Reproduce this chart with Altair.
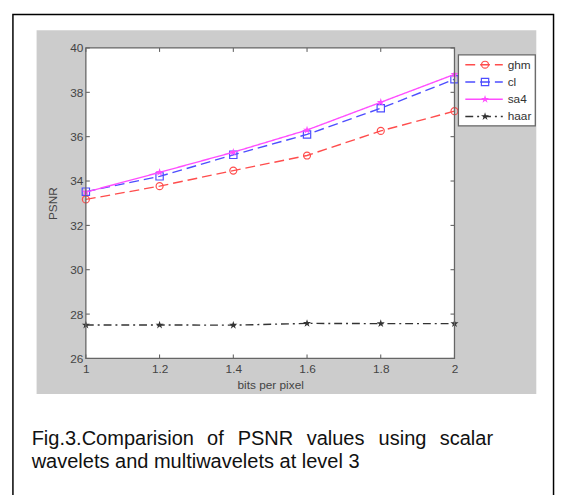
import altair as alt
import pandas as pd

# ---- data ----
bpp = [1.0, 1.2, 1.4, 1.6, 1.8, 2.0]
ghm = [33.17, 33.77, 34.47, 35.15, 36.26, 37.15]
cl = [33.52, 34.21, 35.18, 36.10, 37.28, 38.59]
sa4 = [33.50, 34.39, 35.30, 36.30, 37.55, 38.81]
haar = [27.51, 27.51, 27.50, 27.58, 27.57, 27.57]
series_names = ["ghm", "cl", "sa4", "haar"]
x_ticks = [1.0, 1.2, 1.4, 1.6, 1.8, 2.0]
y_ticks = [26, 28, 30, 32, 34, 36, 38, 40]
caption_line1 = ["Fig.3.Comparision", "of", "PSNR", "values", "using", "scalar"]
caption_line2 = ["wavelets and multiwavelets at level 3"]

values = {"ghm": ghm, "cl": cl, "sa4": sa4, "haar": haar}
df = pd.DataFrame(
    [{"bpp": b, "psnr": v, "series": s} for s in series_names for b, v in zip(bpp, values[s])]
)

# ---- layout / style ----
W, H = 374, 315
FONT = "Liberation Sans"
STAR = ("M0,-1L0.2245,-0.309L0.951,-0.309L0.363,0.118L0.588,0.809L0,0.382"
        "L-0.588,0.809L-0.363,0.118L-0.951,-0.309L-0.2245,-0.309Z")
style = {
    "ghm": dict(color="#ff4d4d", dash=[10, 5], shape="circle", filled=False, size=50),
    "cl": dict(color="#4d4dff", dash=[10, 5], shape="square", filled=False, size=55),
    "sa4": dict(color="#ff4dff", dash=[1, 0], shape=STAR, filled=True, size=75),
    "haar": dict(color="#333333", dash=[8, 4, 2, 4], shape=STAR, filled=True, size=75),
}

xscale = alt.Scale(domain=[1, 2], nice=False, zero=False)
yscale = alt.Scale(domain=[26, 40], nice=False, zero=False)
axis_common = dict(grid=False, domain=False, ticks=False, tickSize=0,
                   labelFont=FONT, labelFontSize=12, labelColor="#444",
                   titleFont=FONT, titleFontSize=12, titleFontWeight="normal",
                   titleColor="#444", zindex=1, labelFlush=False)
X = alt.X("bpp:Q", scale=xscale,
          axis=alt.Axis(values=x_ticks, format="~g", title="bits per pixel",
                        labelPadding=5, titlePadding=5, **axis_common))
Y = alt.Y("psnr:Q", scale=yscale,
          axis=alt.Axis(values=y_ticks, title="PSNR", labelPadding=3,
                        titlePadding=10, **axis_common))

one = pd.DataFrame({"k": [0]})
layers = []

# outer black border
layers.append(alt.Chart(one).mark_rect(fill="white", stroke="black", strokeWidth=1.5)
              .encode(x=alt.value(-74), x2=alt.value(474.5), y=alt.value(-34), y2=alt.value(470)))
# gray figure panel
layers.append(alt.Chart(one).mark_rect(fill="#cccccc")
              .encode(x=alt.value(-50), x2=alt.value(457), y=alt.value(-18), y2=alt.value(351)))
# white plot area
layers.append(alt.Chart(one).mark_rect(fill="white")
              .encode(x=alt.value(0), x2=alt.value(W), y=alt.value(0), y2=alt.value(H)))

# inward ticks
ydf = pd.DataFrame({"psnr": y_ticks})
xdf = pd.DataFrame({"bpp": x_ticks})
tick_col = "#555555"
layers.append(alt.Chart(ydf).mark_rule(color=tick_col).encode(y=Y, x=alt.value(0), x2=alt.value(4)))
layers.append(alt.Chart(ydf).mark_rule(color=tick_col).encode(y=Y, x=alt.value(W - 4), x2=alt.value(W)))
layers.append(alt.Chart(xdf).mark_rule(color=tick_col).encode(x=X, y=alt.value(H - 4), y2=alt.value(H)))
layers.append(alt.Chart(xdf).mark_rule(color=tick_col).encode(x=X, y=alt.value(0), y2=alt.value(4)))

# series
for s in series_names:
    st = style[s]
    base = alt.Chart(df).transform_filter(alt.datum.series == s)
    layers.append(base.mark_line(color=st["color"], strokeDash=st["dash"], strokeWidth=1.4)
                  .encode(x=X, y=Y))
    layers.append(base.mark_point(shape=st["shape"], filled=st["filled"], size=st["size"],
                                  color=st["color"], strokeWidth=1.2, opacity=1)
                  .encode(x=X, y=Y))

# plot frame
layers.append(alt.Chart(one).mark_rect(fill=None, stroke="#666666", strokeWidth=1.3)
              .encode(x=alt.value(0), x2=alt.value(W), y=alt.value(0), y2=alt.value(H)))

# legend box
layers.append(alt.Chart(one).mark_rect(fill="white", stroke="#666666", strokeWidth=1.3)
              .encode(x=alt.value(378), x2=alt.value(456), y=alt.value(7), y2=alt.value(79)))
leg_y = [17, 34.5, 52, 69.5]
for i, s in enumerate(series_names):
    st = style[s]
    ld = pd.DataFrame({"series": [s]})
    layers.append(alt.Chart(ld).mark_rule(color=st["color"], strokeDash=st["dash"], strokeWidth=1.4)
                  .encode(x=alt.value(385), x2=alt.value(423), y=alt.value(leg_y[i])))
    layers.append(alt.Chart(ld).mark_point(shape=st["shape"], filled=st["filled"], size=st["size"],
                                           color=st["color"], strokeWidth=1.2, opacity=1)
                  .encode(x=alt.value(405), y=alt.value(leg_y[i])))
    layers.append(alt.Chart(ld).mark_text(align="left", baseline="middle", font=FONT,
                                          fontSize=12, color="#333333")
                  .encode(x=alt.value(428), y=alt.value(leg_y[i]), text="series:N"))

# caption (justified first line)
CAP_FS = 20.3
cap_x1 = [-55, 123, 154, 224, 297, 359]
for w, xp in zip(caption_line1, cap_x1):
    layers.append(alt.Chart(pd.DataFrame({"t": [w]}))
                  .mark_text(align="left", baseline="alphabetic", font=FONT, fontSize=CAP_FS,
                             color="#111111")
                  .encode(x=alt.value(xp), y=alt.value(403), text="t:N"))
layers.append(alt.Chart(pd.DataFrame({"t": caption_line2}))
              .mark_text(align="left", baseline="alphabetic", font=FONT, fontSize=CAP_FS,
                         color="#111111")
              .encode(x=alt.value(-55), y=alt.value(426), text="t:N"))

chart = (alt.layer(*layers)
         .properties(width=W, height=H,
                     padding={"left": 79, "top": 37, "right": 103, "bottom": 135},
                     autosize=alt.AutoSizeParams(type="none"))
         .configure_view(stroke=None))

chart.save("out.html", embed_options={"renderer": "svg", "actions": False})
